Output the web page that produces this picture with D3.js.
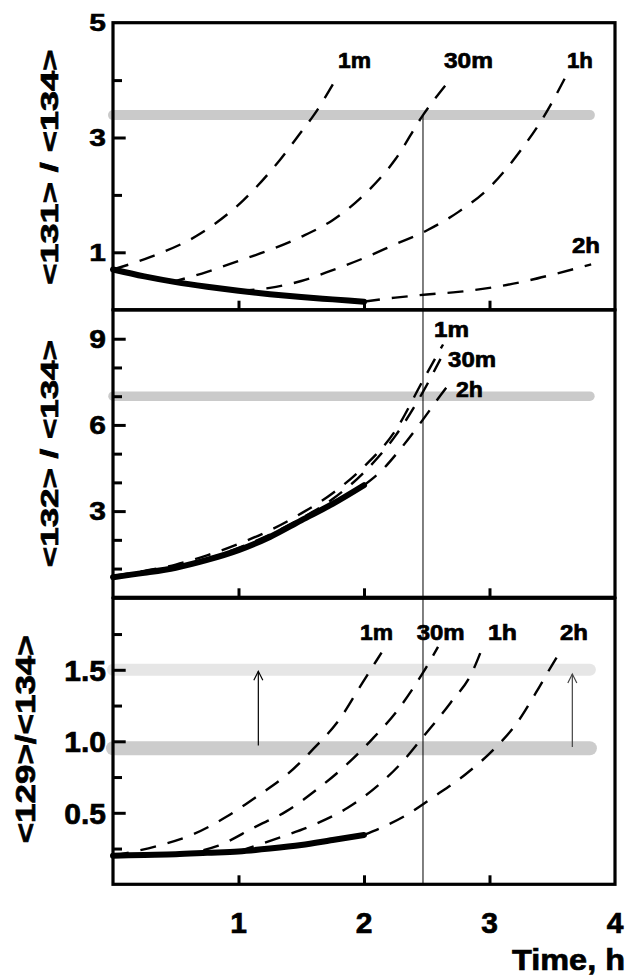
<!DOCTYPE html>
<html><head><meta charset="utf-8">
<script src="https://cdn.jsdelivr.net/npm/d3@7"></script>
<style>
body{margin:0;background:#fff}
svg{display:block}
text{font-family:"Liberation Sans",Arial,Helvetica,sans-serif;font-weight:bold;fill:#000;stroke:#000;stroke-width:0.7px}
</style>
</head><body>
<svg id="chart" width="632" height="976"></svg>
<script>
// ---------------- DATA ----------------
const timeTickValues = [1, 2, 3, 4];
const timeTickLabels = ["1", "2", "3", "4"];
const xAxisTitle = "Time, h";
const markerTime = 2.47;

// Panel 1: <131>/<134>
const p1Title = "<131> / <134>";
const p1TickValues = [1, 2, 3, 4];
const p1LabelValues = [1, 3, 5];
const p1Band = [3.39];
const p1Solid = [[0,0.70],[0.25,0.58],[0.5,0.48],[0.75,0.40],[1,0.33],[1.25,0.27],[1.5,0.22],[1.75,0.18],[2,0.14]];
const p1Dash1m  = [[0,0.70],[0.3,0.92],[0.7,1.33],[1.04,1.91],[1.33,2.61],[1.49,3.07],[1.6,3.39],[1.78,4.03]];
const p1Dash30m = [[0.45,0.47],[0.75,0.66],[1.0,0.85],[1.25,1.04],[1.5,1.27],[1.75,1.56],[2.0,2.0],[2.25,2.62],[2.47,3.39],[2.66,3.94]];
const p1Dash1h  = [[1.0,0.33],[1.25,0.38],[1.5,0.50],[1.75,0.69],[2.0,0.90],[2.25,1.14],[2.5,1.38],[2.75,1.70],[3.0,2.13],[3.25,2.78],[3.44,3.39],[3.6,4.03]];
const p1Dash2h  = [[2.0,0.14],[2.25,0.21],[2.5,0.265],[2.75,0.31],[3.0,0.38],[3.25,0.48],[3.5,0.61],[3.81,0.79]];
const p1Names = ["1m", "30m", "1h", "2h"];
const p1NamePos = [[1.793,4.21],[2.637,4.21],[3.617,4.21],[3.657,0.984]];

// Panel 2: <132>/<134>
const p2Title = "<132> / <134>";
const p2TickValues = [1, 2, 3, 4, 5, 6, 7, 8, 9];
const p2LabelValues = [3, 6, 9];
const p2Band = [7.0];
const p2Solid = [[0,0.70],[0.25,0.85],[0.5,1.03],[0.75,1.30],[1,1.64],[1.25,2.10],[1.5,2.68],[1.75,3.25],[2,3.90]];
const p2Dash1m  = [[0,0.74],[0.25,0.92],[0.5,1.14],[0.75,1.46],[1,1.86],[1.25,2.33],[1.5,2.92],[1.75,3.62],[2,4.55],[2.25,5.80],[2.47,7.55],[2.63,8.8]];
const p2Dash30m = [[0.5,1.03],[0.75,1.34],[1,1.72],[1.25,2.18],[1.5,2.75],[1.75,3.42],[2,4.35],[2.25,5.62],[2.47,7.15],[2.61,8.3]];
const p2Dash2h  = [[2,3.90],[2.16,4.50],[2.26,5.0],[2.43,5.95],[2.61,7.03],[2.66,7.32]];
const p2Names = ["1m", "30m", "2h"];
const p2NamePos = [[2.558,9.07],[2.670,8.03],[2.733,6.98]];

// Panel 3: <129>/<134>
const p3Title = "<129>/<134>";
const p3TickValues = [0.25, 0.5, 0.75, 1.0, 1.25, 1.5, 1.75];
const p3LabelValues = [0.5, 1.0, 1.5];
const p3Bands = [1.5, 0.951];
const p3Solid = [[0,0.20],[0.25,0.205],[0.5,0.21],[0.75,0.22],[1,0.23],[1.25,0.25],[1.5,0.275],[1.75,0.31],[2,0.345]];
const p3Dash1m  = [[0,0.20],[0.36,0.27],[0.64,0.35],[0.90,0.47],[1.14,0.61],[1.39,0.77],[1.60,0.95],[1.81,1.16],[1.96,1.37],[2.10,1.565],[2.14,1.62]];
const p3Dash30m = [[0.5,0.21],[0.84,0.27],[1.13,0.40],[1.38,0.51],[1.62,0.66],[1.84,0.82],[2.06,1.01],[2.27,1.22],[2.47,1.48],[2.59,1.66]];
const p3Dash1h  = [[1.0,0.23],[1.37,0.34],[1.61,0.42],[1.87,0.535],[2.11,0.69],[2.32,0.87],[2.47,1.03],[2.69,1.27],[2.86,1.48],[2.95,1.67]];
const p3Dash2h  = [[2.0,0.345],[2.33,0.48],[2.57,0.62],[2.81,0.77],[3.03,0.94],[3.22,1.13],[3.37,1.34],[3.52,1.565],[3.57,1.635]];
const p3Names = ["1m", "30m", "1h", "2h"];
const p3NamePos = [[1.968,1.708],[2.420,1.708],[2.988,1.708],[3.562,1.708]];
const p3ArrowTimes = [1.158, 3.66];
const p3ArrowFrom = [0.97, 0.96];
const p3ArrowTo = [1.49, 1.47];

// ---------------- DRAWING ----------------
const svg = d3.select("#chart");
const x = d3.scaleLinear().domain([0, 4]).range([113, 615]);
const bandEnd = 3.8;

const panels = [
  {title: p1Title, yDomain: [0, 5], yRange: [309.7, 22.7], ticks: p1TickValues, major: p1LabelValues, labels: p1LabelValues,
   labelScaleY: 0.77, fmt: d3.format("d"), bands: p1Band, bandColors: ["#cacaca"], bandWidths: [10],
   solid: p1Solid, dashed: [p1Dash1m, p1Dash30m, p1Dash1h, p1Dash2h], names: p1Names, namePos: p1NamePos,
   nameLen: [33, 49, 26, 28], titleX: 58, titleLen: 235, titleSize: 24, titleShift: 1},
  {title: p2Title, yDomain: [0, 10], yRange: [597.3, 310], ticks: p2TickValues, major: p2LabelValues, labels: p2LabelValues,
   labelScaleY: 0.85, fmt: d3.format("d"), bands: p2Band, bandColors: ["#cacaca"], bandWidths: [9.5],
   solid: p2Solid, dashed: [p2Dash1m, p2Dash30m, p2Dash2h], names: p2Names, namePos: p2NamePos,
   nameLen: [35, 48, 27], titleX: 58, titleLen: 227, titleSize: 24, titleShift: 0},
  {title: p3Title, yDomain: [0, 2], yRange: [884.3, 598.3], ticks: p3TickValues, major: p3LabelValues, labels: p3LabelValues,
   labelScaleY: 1.0, fmt: d3.format(".1f"), bands: p3Bands, bandColors: ["#e6e6e6", "#cccccc"], bandWidths: [12, 14],
   solid: p3Solid, dashed: [p3Dash1m, p3Dash30m, p3Dash1h, p3Dash2h], names: p3Names, namePos: p3NamePos,
   nameLen: [33, 48, 29, 28], titleX: 35, titleLen: 208, titleSize: 28, titleShift: -2}
];

panels.forEach(p => { p.y = d3.scaleLinear().domain(p.yDomain).range(p.yRange); });

// gray bands (background)
panels.forEach(p => {
  const g = svg.append("g");
  p.bands.forEach((b, i) => {
    g.append("line")
      .attr("x1", x(0)).attr("x2", x(bandEnd))
      .attr("y1", p.y(b)).attr("y2", p.y(b))
      .attr("stroke", p.bandColors[i]).attr("stroke-width", p.bandWidths[i])
      .attr("stroke-linecap", "round");
  });
});

// vertical marker line
svg.append("line")
  .attr("x1", x(markerTime)).attr("x2", x(markerTime))
  .attr("y1", panels[0].y(p1Band[0])).attr("y2", panels[2].y(0))
  .attr("stroke", "#000").attr("stroke-width", 1);

// arrows in panel 3
const p3 = panels[2];
p3ArrowTimes.forEach((t, i) => {
  const ax = x(t), y0 = p3.y(p3ArrowFrom[i]), y1 = p3.y(p3ArrowTo[i]);
  const col = i === 0 ? "#000" : "#444";
  svg.append("line").attr("x1", ax).attr("x2", ax).attr("y1", y0).attr("y2", y1)
    .attr("stroke", col).attr("stroke-width", 1.2);
  svg.append("path").attr("d", `M${ax-4.5},${y1+9} L${ax},${y1} L${ax+4.5},${y1+9}`)
    .attr("fill", "none").attr("stroke", col).attr("stroke-width", 1.2);
});

// curves
panels.forEach(p => {
  const line = d3.line().x(d => x(d[0])).y(d => p.y(d[1])).curve(d3.curveMonotoneX);
  const g = svg.append("g");
  p.dashed.forEach(s => {
    g.append("path").attr("d", line(s)).attr("fill", "none")
      .attr("stroke", "#000").attr("stroke-width", 2.4).attr("stroke-dasharray", "16,12");
  });
  g.append("path").attr("d", line(p.solid)).attr("fill", "none")
    .attr("stroke", "#000").attr("stroke-width", 6).attr("stroke-linecap", "round");
});

// frames, ticks, labels
panels.forEach(p => {
  const g = svg.append("g");
  const yAxis = d3.axisLeft(p.y).tickValues(p.ticks).tickSizeInner(0).tickSizeOuter(0).tickFormat("");
  const ga = g.append("g").attr("transform", `translate(${x(0)},0)`).call(yAxis);
  ga.select(".domain").remove();
  ga.selectAll(".tick line")
    .attr("x2", d => p.major.some(m => Math.abs(m - d) < 1e-9) ? 12.7 : 9)
    .attr("stroke", "#000").attr("stroke-width", 3);
  const xAxis = d3.axisBottom(x).tickValues([1, 2, 3]).tickSizeInner(-9).tickSizeOuter(0).tickFormat("");
  const gb = g.append("g").attr("transform", `translate(0,${p.y(p.yDomain[0])})`).call(xAxis);
  gb.select(".domain").remove();
  gb.selectAll(".tick line").attr("stroke", "#000").attr("stroke-width", 3);
  g.append("rect")
    .attr("x", x(0)).attr("y", p.y(p.yDomain[1]))
    .attr("width", x(4) - x(0)).attr("height", p.y(p.yDomain[0]) - p.y(p.yDomain[1]))
    .attr("fill", "none").attr("stroke", "#000").attr("stroke-width", 3.2);
  p.labels.forEach(v => {
    g.append("text")
      .attr("transform", `translate(106,${p.y(v)}) scale(1,${p.labelScaleY})`)
      .attr("text-anchor", "end").attr("dy", "0.36em")
      .style("font-size", "30px").text(p.fmt(v));
  });
  const cy = (p.yRange[0] + p.yRange[1]) / 2;
  g.append("text")
    .attr("transform", `translate(${p.titleX},${cy + p.titleShift}) rotate(-90)`)
    .attr("text-anchor", "middle")
    .attr("textLength", p.titleLen).attr("lengthAdjust", "spacingAndGlyphs")
    .style("font-size", p.titleSize + "px").text(p.title);
  p.names.forEach((n, i) => {
    g.append("text")
      .attr("x", x(p.namePos[i][0])).attr("y", p.y(p.namePos[i][1]))
      .attr("textLength", p.nameLen[i]).attr("lengthAdjust", "spacingAndGlyphs")
      .style("font-size", "22px").text(n);
  });
});

// x tick labels and title
const gx = svg.append("g");
timeTickValues.forEach((t, i) => {
  gx.append("text").attr("x", x(t)).attr("y", 933).attr("text-anchor", "middle")
    .style("font-size", "30px").text(timeTickLabels[i]);
});
gx.append("text").attr("x", 512).attr("y", 970)
  .attr("textLength", 113).attr("lengthAdjust", "spacingAndGlyphs")
  .style("font-size", "30px").text(xAxisTitle);
</script>
</body></html>
